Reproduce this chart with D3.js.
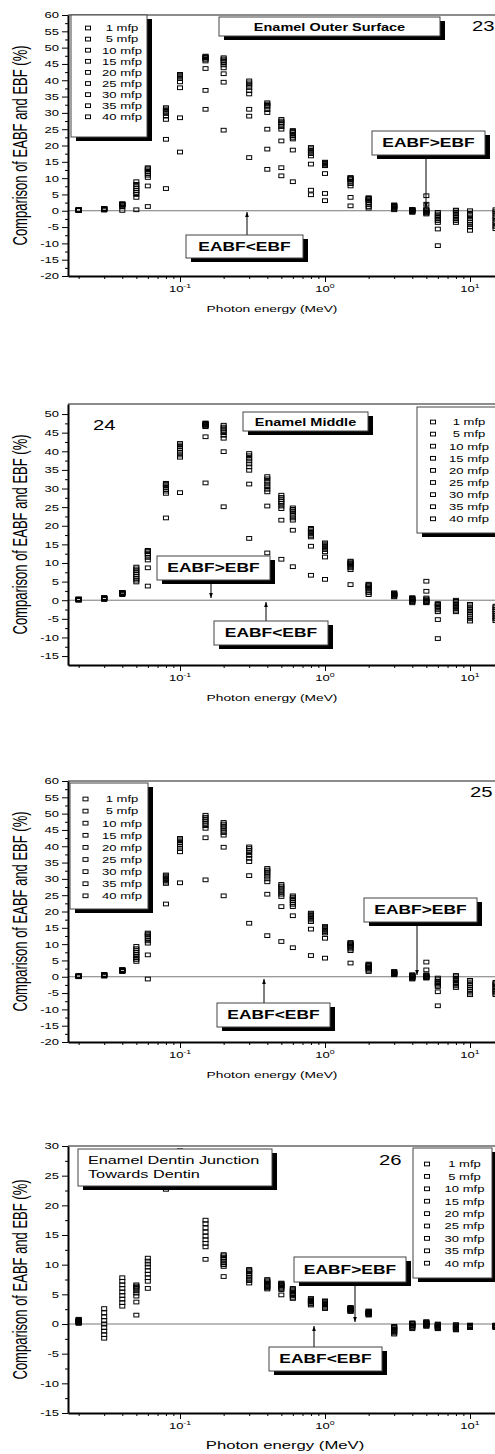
<!DOCTYPE html>
<html>
<head>
<meta charset="utf-8">
<script src="https://cdn.jsdelivr.net/npm/d3@7"></script>
<style>
  body { margin: 0; background: #fff; }
  svg { display: block; font-family: "Liberation Sans", Arial, sans-serif; }
</style>
</head>
<body>
<svg id="chart" width="495" height="1454"></svg>
<script>
// photon energies (MeV), one column of squares per energy
var energies = [0.02, 0.03, 0.04, 0.05, 0.06, 0.08, 0.1, 0.15, 0.2, 0.3, 0.4, 0.5, 0.6, 0.8,
                1, 1.5, 2, 3, 4, 5, 6, 8, 10, 15];
var mfpLabels = ["1 mfp", "5 mfp", "10 mfp", "15 mfp", "20 mfp", "25 mfp", "30 mfp", "35 mfp", "40 mfp"];
var xTickLabels = [0.1, 1, 10];

// % difference per energy, 9 values (one per mfp)
var fig23Values = [
  [0.1,0.1,0.2,0.2,0.2,0.2,0.3,0.3,0.3],
  [0.2,0.4,0.5,0.5,0.6,0.6,0.6,0.7,0.7],
  [0.1,1.2,1.5,1.8,1.9,2.0,2.0,2.1,2.1],
  [0.3,4.1,5.0,5.6,6.2,6.8,7.4,8.1,8.9],
  [1.3,7.6,10.2,10.9,11.5,12.0,12.5,12.9,13.2],
  [6.8,21.9,28.0,29.0,29.8,30.3,30.8,31.2,31.6],
  [18.0,28.5,37.7,39.5,40.5,41.0,41.3,41.6,41.8],
  [31.1,36.9,43.6,45.9,46.4,46.8,47.0,47.2,47.4],
  [24.7,39.4,42.0,43.8,44.7,45.4,46.0,46.5,46.9],
  [16.3,29.0,31.1,35.8,36.8,37.8,38.5,39.2,39.8],
  [12.7,18.9,25.0,30.1,31.0,31.8,32.3,32.7,33.1],
  [10.7,13.2,21.4,25.0,25.8,26.5,27.0,27.5,28.0],
  [8.9,18.6,22.0,22.5,23.0,23.5,24.0,24.3,24.6],
  [4.9,6.3,14.3,16.8,17.5,18.0,18.5,19.0,19.4],
  [3.1,5.3,11.4,13.8,14.0,14.3,14.5,14.7,14.9],
  [1.5,4.1,7.6,8.3,9.0,9.5,9.8,10.0,10.2],
  [0.8,1.3,2.0,2.5,3.0,3.3,3.6,3.8,4.0],
  [0.3,0.6,0.9,1.1,1.3,1.4,1.5,1.6,1.8],
  [-0.5,-0.3,-0.2,0,0.1,0.2,0.3,0.3,0.4],
  [4.6,2.0,0.5,0.2,0,-0.3,-0.5,-0.7,-1.0],
  [-10.7,-5.6,-3.6,-3.0,-2.5,-2.0,-1.5,-1.0,-0.5],
  [-3.6,-3.0,-2.5,-2.0,-1.5,-1.0,-0.5,0,0.2],
  [-6.0,-5.0,-4.3,-3.6,-3.0,-2.3,-1.5,-0.8,0],
  [-5.5,-4.8,-4.0,-3.3,-2.5,-1.8,-1.0,-0.3,0.3]
];
var fig24Values = [
  [0,0.1,0.1,0.2,0.2,0.2,0.3,0.3,0.3],
  [0.2,0.3,0.4,0.5,0.5,0.6,0.6,0.6,0.7],
  [1.5,1.7,1.8,1.9,2.0,2.0,2.0,2.1,2.1],
  [4.9,5.4,5.9,6.4,6.9,7.4,7.9,8.4,8.9],
  [3.8,8.7,10.8,11.5,12.1,12.5,13.0,13.2,13.4],
  [22.1,28.7,29.3,29.8,30.3,30.7,31.0,31.2,31.4],
  [28.9,38.4,39.0,39.7,40.3,40.8,41.3,41.7,42.1],
  [31.5,43.9,46.6,46.8,47.0,47.2,47.3,47.5,47.6],
  [25.1,39.9,43.5,44.3,45.0,45.5,46.0,46.5,47.0],
  [16.6,31.2,34.9,35.8,36.6,37.4,38.1,38.8,39.4],
  [12.7,25.3,29.1,29.8,30.5,31.2,31.9,32.6,33.2],
  [11.0,21.5,24.6,25.3,26.0,26.5,27.0,27.6,28.2],
  [9.0,18.8,21.5,22.1,22.8,23.4,24.0,24.4,24.8],
  [6.7,14.5,17.0,17.4,17.8,18.2,18.6,19.0,19.3],
  [5.6,11.6,13.0,13.6,14.0,14.4,14.8,15.1,15.4],
  [4.2,8.2,8.7,9.1,9.5,9.8,10.0,10.3,10.5],
  [1.5,2.0,2.5,3.0,3.3,3.6,3.9,4.1,4.3],
  [0.9,1.1,1.3,1.4,1.5,1.6,1.7,1.8,2.0],
  [-0.7,-0.4,-0.2,0,0.2,0.3,0.4,0.5,0.7],
  [5.1,2.4,0.6,0.3,0,-0.2,-0.4,-0.6,-0.7],
  [-10.3,-5.2,-3.1,-2.6,-2.1,-1.7,-1.3,-1.1,-0.9],
  [-3.1,-2.7,-2.3,-1.9,-1.5,-1.1,-0.7,-0.3,0],
  [-5.6,-5.0,-4.4,-3.8,-3.2,-2.6,-2.0,-1.5,-1.1],
  [-5.5,-5.0,-4.5,-4.0,-3.5,-3.0,-2.5,-2.0,-1.6]
];
var fig25Values = [
  [0,0.1,0.1,0.2,0.2,0.2,0.3,0.3,0.3],
  [0.2,0.3,0.4,0.5,0.5,0.6,0.6,0.7,0.7],
  [1.6,1.7,1.8,1.9,2.0,2.0,2.1,2.1,2.2],
  [4.7,5.3,5.8,6.3,6.8,7.4,8.0,8.6,9.3],
  [-0.7,6.7,10.3,11.0,11.7,12.3,12.8,13.1,13.4],
  [22.3,28.6,29.0,29.5,30.0,30.3,30.6,30.9,31.2],
  [28.8,38.3,39.3,40.0,40.6,41.1,41.6,42.0,42.4],
  [29.7,42.6,45.5,46.3,47.0,47.7,48.3,48.9,49.5],
  [24.8,39.7,43.4,44.2,44.9,45.6,46.2,46.8,47.3],
  [16.4,31.0,35.3,36.3,37.2,38.0,38.7,39.3,39.8],
  [12.6,25.3,29.1,30.0,30.8,31.5,32.1,32.7,33.2],
  [10.8,21.5,24.6,25.3,26.0,26.6,27.2,27.8,28.3],
  [8.9,18.7,21.5,22.2,22.8,23.4,23.9,24.4,24.8],
  [6.5,14.6,16.9,17.4,17.9,18.4,18.8,19.2,19.5],
  [5.7,11.8,13.4,13.8,14.2,14.6,14.9,15.2,15.4],
  [4.2,8.0,8.5,9.0,9.4,9.7,10.0,10.3,10.5],
  [1.6,2.0,2.4,2.7,3.0,3.3,3.5,3.7,3.9],
  [0.6,0.8,0.9,1.0,1.1,1.2,1.4,1.5,1.6],
  [-0.7,-0.5,-0.3,-0.1,0,0.2,0.3,0.5,0.6],
  [4.5,2.1,0.6,0.4,0.2,0,-0.1,-0.3,-0.4],
  [-8.9,-4.6,-3.0,-2.6,-2.2,-1.8,-1.4,-0.9,-0.4],
  [-3.3,-2.8,-2.3,-1.8,-1.3,-0.9,-0.5,0,0.4],
  [-5.5,-5.0,-4.4,-3.9,-3.3,-2.7,-2.2,-1.6,-1.1],
  [-5.5,-5.0,-4.5,-4.0,-3.5,-3.0,-2.5,-2.1,-1.7]
];
var fig26Values = [
  [0.1,0.2,0.3,0.4,0.5,0.5,0.6,0.7,0.8],
  [-2.4,-1.8,-1.2,-0.6,0,0.6,1.2,1.9,2.6],
  [3.0,3.6,4.2,4.8,5.4,6.0,6.6,7.2,7.8],
  [1.5,3.7,4.7,5.2,5.6,6.0,6.2,6.4,6.6],
  [6.0,7.2,7.8,8.4,9.0,9.6,10.1,10.6,11.1],
  [22.7,23.6,24.4,25.1,25.8,26.4,27.0,27.6,28.2],
  [24.2,25.0,25.8,26.5,27.2,27.8,28.3,28.8,29.2],
  [10.9,13.0,13.6,14.2,14.8,15.5,16.2,16.9,17.5],
  [8.0,9.7,10.0,10.3,10.6,10.9,11.2,11.5,11.7],
  [6.9,7.3,7.6,7.9,8.2,8.5,8.8,9.0,9.2],
  [5.9,6.1,6.3,6.5,6.7,6.9,7.1,7.3,7.5],
  [4.9,5.8,6.0,6.2,6.4,6.5,6.7,6.8,6.9],
  [4.3,4.5,4.8,5.0,5.2,5.4,5.6,5.8,6.0],
  [3.2,3.4,3.5,3.7,3.8,3.9,4.0,4.2,4.3],
  [2.6,2.8,3.0,3.2,3.3,3.5,3.6,3.8,3.9],
  [2.1,2.2,2.3,2.4,2.5,2.6,2.6,2.7,2.8],
  [1.5,1.6,1.7,1.8,1.9,2.0,2.0,2.1,2.2],
  [-1.7,-1.5,-1.3,-1.1,-0.9,-0.8,-0.6,-0.5,-0.4],
  [-0.8,-0.6,-0.4,-0.3,-0.2,0,0.1,0.1,0.2],
  [-0.4,-0.3,-0.2,-0.1,0,0.1,0.2,0.3,0.4],
  [-0.8,-0.7,-0.6,-0.5,-0.4,-0.3,-0.2,-0.1,0],
  [-1.0,-0.9,-0.8,-0.7,-0.6,-0.5,-0.4,-0.2,-0.1],
  [-0.6,-0.5,-0.5,-0.4,-0.4,-0.3,-0.3,-0.2,-0.2],
  [-0.6,-0.5,-0.5,-0.4,-0.4,-0.3,-0.3,-0.2,-0.2]
];

// the original figure is stretched sideways, so all text gets a horizontal scale
var SX = 1.45;
var LEFT = 68;
var W = 495;

// layout of the four panels (positions only)
var panels = [
  { values: fig23Values, top: 15, bottom: 276, yDomain: [-20, 60], yMin: -20, yMax: 60,
    tag: "23", tagX: 472, tagY: 31, xTitleX: 272, xTitleSize: 9.5,
    legend: { x: 71, y: 15, w: 76, h: 122, sqX: 88, txtX: 122, row0: 28, step: 11.1 },
    title: { x: 219, y: 17, w: 221, h: 19, lines: ["Enamel Outer Surface"], bold: true, size: 10, tx: 329.5, ty: 30.5, anchor: "middle" },
    above: { box: [372, 131, 113, 24], arrow: [426, 159, 426, 208] },
    below: { box: [186, 235, 117, 23], arrow: [247, 235, 247, 212] } },
  { values: fig24Values, top: 404, bottom: 665, yDomain: [-17.4, 52.7], yMin: -15, yMax: 50,
    tag: "24", tagX: 93, tagY: 430, xTitleX: 272, xTitleSize: 9.5,
    legend: { x: 417, y: 407, w: 92, h: 126, sqX: 433, txtX: 469, row0: 422, step: 12.1 },
    title: { x: 243, y: 412, w: 125, h: 19, lines: ["Enamel Middle"], bold: true, size: 10, tx: 305.5, ty: 425.5, anchor: "middle" },
    above: { box: [157, 556, 113, 24], arrow: [211, 584, 211, 598] },
    below: { box: [214, 621, 114, 24], arrow: [266, 621, 266, 602] } },
  { values: fig25Values, top: 781, bottom: 1042, yDomain: [-20, 60], yMin: -20, yMax: 60,
    tag: "25", tagX: 470, tagY: 797, xTitleX: 272, xTitleSize: 9.5,
    legend: { x: 70, y: 783, w: 78, h: 126, sqX: 85.5, txtX: 122, row0: 799, step: 12.1 },
    title: null,
    above: { box: [364, 898, 113, 24], arrow: [417, 926, 417, 975] },
    below: { box: [217, 1003, 113, 24], arrow: [264, 1003, 264, 979] } },
  { values: fig26Values, top: 1146, bottom: 1413, yDomain: [-15, 30], yMin: -15, yMax: 30,
    tag: "26", tagX: 379, tagY: 1165, xTitleX: 285, xTitleSize: 11.5,
    legend: { x: 413, y: 1148, w: 79, h: 130, sqX: 427, txtX: 464.5, row0: 1164, step: 12.4 },
    title: { x: 78, y: 1149, w: 194, h: 37, lines: ["Enamel Dentin Junction", "Towards Dentin"], bold: false, size: 11.2, tx: 88, ty: 1164, anchor: "start" },
    above: { box: [294, 1257, 112, 25], arrow: [355, 1286, 355, 1322] },
    below: { box: [269, 1347, 113, 24], arrow: [314, 1347, 314, 1326] } }
];

var svg = d3.select("#chart");

// arrowhead
svg.append("defs").append("marker")
    .attr("id", "head")
    .attr("viewBox", "0 0 8 6")
    .attr("refX", 8).attr("refY", 3)
    .attr("markerWidth", 5).attr("markerHeight", 4)
    .attr("markerUnits", "userSpaceOnUse")
    .attr("orient", "auto")
  .append("path").attr("d", "M0,0L8,3L0,6Z").attr("fill", "#000");

// x scale: 10^-1 at 180px, 10^1 at 470px, then widened to the plot edges
var x = d3.scaleLog().domain([0.1, 10]).range([180, 470]);
x.domain([x.invert(LEFT), x.invert(515)]).range([LEFT, 515]);

var minorX = [];
[0.01, 0.1, 1].forEach(function(dec) {
  for (var k = 2; k <= 9; k++) {
    var v = +(dec * k).toPrecision(3);
    if (v > x.domain()[0]) minorX.push(v);
  }
});
minorX.push(20);

// stretched text helper
function addText(g, px, py, str, size, anchor, weight) {
  return g.append("text")
      .attr("transform", "translate(" + px + "," + py + ") scale(" + SX + ",1)")
      .attr("font-size", size)
      .attr("text-anchor", anchor || "start")
      .attr("font-weight", weight || "normal")
      .attr("fill", "#000")
      .text(str);
}

function shadowBox(g, bx, by, bw, bh) {
  g.append("rect").attr("x", bx + 5).attr("y", by + 4).attr("width", bw).attr("height", bh)
      .attr("fill", "#000");
  g.append("rect").attr("x", bx).attr("y", by).attr("width", bw).attr("height", bh)
      .attr("fill", "#fff").attr("stroke", "#444").attr("stroke-width", 1);
}

function drawPanel(cfg) {
  var g = svg.append("g");
  var y = d3.scaleLinear().domain(cfg.yDomain).range([cfg.bottom, cfg.top]);

  // frame top and zero line
  g.append("line").attr("x1", LEFT).attr("x2", W).attr("y1", cfg.top).attr("y2", cfg.top)
      .attr("stroke", "#666").attr("stroke-width", 1.3);
  g.append("line").attr("x1", LEFT).attr("x2", W).attr("y1", y(0)).attr("y2", y(0))
      .attr("stroke", "#777").attr("stroke-width", 1);

  // y axis
  var majors = d3.range(cfg.yMin, cfg.yMax + 0.1, 5);
  var minors = d3.range(cfg.yMin + 2.5, cfg.yMax, 5);
  var ya = g.append("g").attr("transform", "translate(" + LEFT + ",0)")
      .call(d3.axisLeft(y).tickValues(majors).tickSize(6).tickSizeOuter(0).tickPadding(3)
        .tickFormat(function(d) { return String(d); }));
  ya.select(".domain").attr("stroke-width", 2);
  ya.selectAll("text").attr("font-size", 9).attr("font-family", null)
      .attr("x", -9 / SX).attr("transform", "scale(" + SX + ",1)");
  g.append("g").attr("transform", "translate(" + LEFT + ",0)")
      .call(d3.axisLeft(y).tickValues(minors).tickSize(3).tickFormat(""))
      .select(".domain").remove();

  // x axis
  var xa = g.append("g").attr("transform", "translate(0," + cfg.bottom + ")")
      .call(d3.axisBottom(x).tickValues(xTickLabels).tickSize(6).tickSizeOuter(0).tickFormat(""));
  xa.select(".domain").attr("stroke-width", 2);
  g.append("g").attr("transform", "translate(0," + cfg.bottom + ")")
      .call(d3.axisBottom(x).tickValues(minorX).tickSize(3).tickFormat(""))
      .select(".domain").remove();
  xTickLabels.forEach(function(v) {
    var t = addText(g, x(v), cfg.bottom + 16, "10", 9, "middle");
    t.append("tspan").attr("font-size", 6).attr("dy", -4).text(String(Math.round(Math.log10(v))));
  });

  // axis titles
  addText(g, cfg.xTitleX, cfg.bottom + 36, "Photon energy (MeV)", cfg.xTitleSize, "middle");
  g.append("text")
      .attr("transform", "translate(20," + ((cfg.top + cfg.bottom) / 2) + ") scale(1.5,1) rotate(-90)")
      .attr("text-anchor", "middle").attr("dy", "0.35em")
      .attr("font-size", 13)
      .text("Comparison of EABF and EBF (%)");

  // data squares
  var pts = [];
  cfg.values.forEach(function(row, i) {
    row.forEach(function(v, j) { pts.push({ e: energies[i], v: v, s: j }); });
  });
  g.append("g").selectAll("rect").data(pts).join("rect")
      .attr("x", function(d) { return x(d.e) - 2.5; })
      .attr("y", function(d) { return y(d.v) - 1.85; })
      .attr("width", 5).attr("height", 3.7)
      .attr("fill", "none").attr("stroke", "#000").attr("stroke-width", 1);

  // annotations
  [cfg.above, cfg.below].forEach(function(a, k) {
    var b = a.box;
    g.append("line").attr("x1", a.arrow[0]).attr("y1", a.arrow[1])
        .attr("x2", a.arrow[2]).attr("y2", a.arrow[3])
        .attr("stroke", "#000").attr("stroke-width", 1).attr("marker-end", "url(#head)");
    shadowBox(g, b[0], b[1], b[2], b[3]);
    addText(g, b[0] + b[2] / 2, b[1] + b[3] / 2 + 4.3, k === 0 ? "EABF>EBF" : "EABF<EBF", 12, "middle", "bold");
  });

  // title box
  if (cfg.title) {
    var t = cfg.title;
    shadowBox(g, t.x, t.y, t.w, t.h);
    t.lines.forEach(function(line, i) {
      addText(g, t.tx, t.ty + i * 14, line, t.size, t.anchor, t.bold ? "bold" : "normal");
    });
  }

  // panel number
  addText(g, cfg.tagX, cfg.tagY, cfg.tag, 14, "start");

  // legend
  var L = cfg.legend;
  shadowBox(g, L.x, L.y, L.w, L.h);
  mfpLabels.forEach(function(lab, i) {
    var ry = L.row0 + i * L.step;
    g.append("rect").attr("x", L.sqX - 2.5).attr("y", ry - 1.85).attr("width", 5).attr("height", 3.7)
        .attr("fill", "none").attr("stroke", "#000").attr("stroke-width", 1);
    addText(g, L.txtX, ry + 3.3, lab, 9, "middle");
  });
}

panels.forEach(drawPanel);
</script>
</body>
</html>
